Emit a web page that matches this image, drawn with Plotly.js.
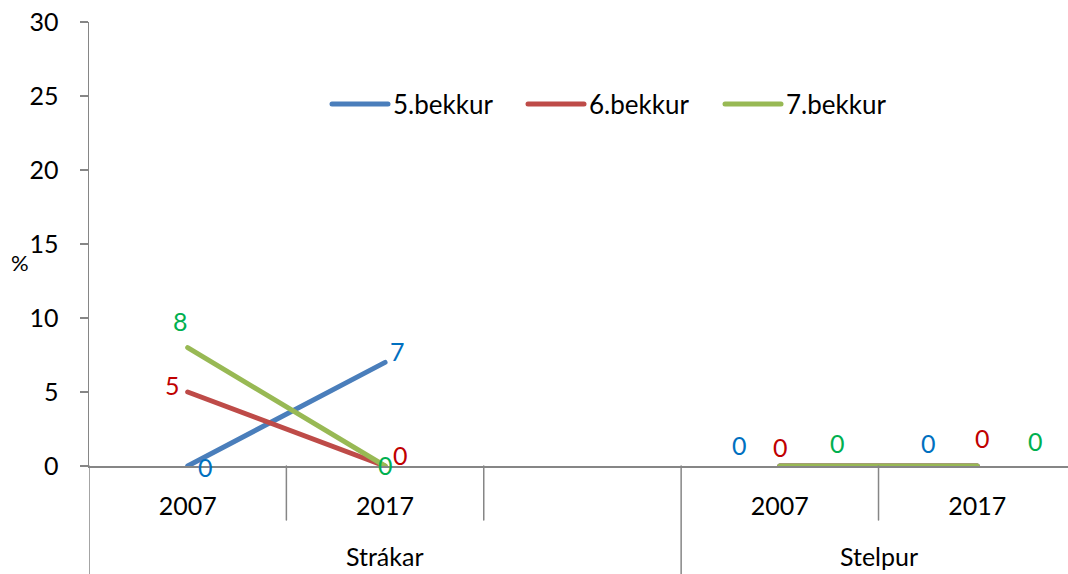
<!DOCTYPE html>
<html>
<head>
<meta charset="utf-8">
<script src="https://cdn.plot.ly/plotly-3.0.1.min.js"></script>
<style>
html,body{margin:0;padding:0;background:#fff;}
#chart{width:1068px;height:574px;}
path.js-line{stroke-linecap:round !important;}
</style>
</head>
<body>
<div id="chart"></div>
<script>
// ---- data ----
const groups = ["Strákar", "Stelpur"];
const years = ["2007", "2017"];
const seriesNames = ["5.bekkur", "6.bekkur", "7.bekkur"];
// values per series: [Strákar 2007, Strákar 2017, Stelpur 2007, Stelpur 2017]
const bekkur5 = [0, 7, 0, 0];
const bekkur6 = [5, 0, 0, 0];
const bekkur7 = [8, 0, 0, 0];
const yTicks = [0, 5, 10, 15, 20, 25, 30];
const yLabel = "%";

// ---- layout helpers (positions / styles) ----
// category slots: Strákar 2007, Strákar 2017, (blank), Stelpur 2007, Stelpur 2017
const slotX = [0, 1, 3, 4];
const lineColors = ["#4A7EBB", "#BE4B48", "#98B954"];
const labelColors = ["#0070C0", "#C00000", "#00B050"];
const FONT = "Lato, 'Noto Sans', sans-serif";
const FS = 25;
// label offsets in px (dx right, dy down) per series per point
const labelOffsets = [
  [[18, 1], [12, -11], [-40, -21], [-49, -23]],
  [[-15, -7], [15, -11], [1, -19], [5, -28]],
  [[-7, -27], [0, -1], [58, -23], [58, -25]]
];
const allSeries = [bekkur5, bekkur6, bekkur7];

const plotW = 979, plotH = 444, botPx = 108, leftPx = 89, topPx = 22;
const px2x = p => (p - leftPx) / plotW;
const py2y = p => (topPx + plotH - p) / plotH;

function withGap(vals) {
  return {
    x: [slotX[0], slotX[1], null, slotX[2], slotX[3]],
    y: [vals[0], vals[1], null, vals[2], vals[3]]
  };
}

const traces = allSeries.map((vals, i) => {
  const g = withGap(vals);
  return {
    type: "scatter",
    mode: "lines",
    name: seriesNames[i],
    x: g.x,
    y: g.y,
    connectgaps: false,
    line: {color: lineColors[i], width: 5},
    hoverinfo: "skip",
    cliponaxis: false,
    showlegend: false
  };
});

const annotations = [];
allSeries.forEach((vals, i) => {
  vals.forEach((v, j) => {
    annotations.push({
      xref: "x", yref: "y", x: slotX[j], y: v,
      text: String(v), showarrow: false,
      xshift: labelOffsets[i][j][0], yshift: -labelOffsets[i][j][1],
      font: {family: FONT, size: FS, color: labelColors[i]},
      xanchor: "center", yanchor: "middle"
    });
  });
});

const shortDiv = -54 / plotH;
const longDiv = -botPx / plotH;

// group labels
const groupCenters = [1, 3.5];
groups.forEach((g, k) => {
  annotations.push({
    xref: "x", yref: "paper", x: groupCenters[k], y: py2y(556),
    text: g, showarrow: false, xanchor: "center", yanchor: "middle",
    font: {family: FONT, size: FS, color: "#000"}
  });
});
// y-axis label
annotations.push({
  xref: "paper", yref: "paper", x: px2x(20), y: py2y(262),
  text: yLabel, showarrow: false, xanchor: "center", yanchor: "middle",
  font: {family: FONT, size: 22, color: "#000"}
});

const divColor = "#868686";
const shapes = [];
[0.5, 1.5, 3.5].forEach(xv => shapes.push({
  type: "line", xref: "x", yref: "paper", x0: xv, x1: xv, y0: 0, y1: shortDiv,
  line: {color: divColor, width: 1.5}
}));
[-0.5, 2.5, 4.5].forEach(xv => shapes.push({
  type: "line", xref: "x", yref: "paper", x0: xv, x1: xv, y0: 0, y1: longDiv,
  line: {color: divColor, width: 1.5}
}));

// custom legend (line sample + text)
const legStart = [332, 528, 725];
seriesNames.forEach((nm, i) => {
  shapes.push({
    type: "line", xref: "paper", yref: "paper",
    x0: px2x(legStart[i]), x1: px2x(legStart[i] + 56), y0: py2y(104), y1: py2y(104),
    line: {color: lineColors[i], width: 5}, name: "leg" + i
  });
  annotations.push({
    xref: "paper", yref: "paper", x: px2x(legStart[i] + 59), y: py2y(104),
    text: nm, showarrow: false, xanchor: "left", yanchor: "middle",
    font: {family: FONT, size: 26, color: "#000"}
  });
});

const layout = {
  width: 1068, height: 574,
  margin: {l: leftPx, r: 0, t: topPx, b: botPx},
  paper_bgcolor: "#fff", plot_bgcolor: "#fff",
  showlegend: false,
  xaxis: {
    range: [-0.5, 4.46], type: "linear",
    tickvals: slotX, ticktext: [years[0], years[1], years[0], years[1]],
    showgrid: false, zeroline: false, showline: true,
    linecolor: divColor, linewidth: 1.5, ticks: "",
    ticklabelstandoff: 17,
    tickfont: {family: FONT, size: FS, color: "#000"},
    fixedrange: true
  },
  yaxis: {
    range: [0, 30], tickvals: yTicks,
    showgrid: false, zeroline: false, showline: true,
    linecolor: divColor, linewidth: 1.5,
    ticks: "outside", ticklen: 8, tickcolor: divColor, tickwidth: 1.5,
    ticklabelstandoff: 16,
    tickfont: {family: FONT, size: FS, color: "#000"},
    fixedrange: true
  },
  annotations: annotations,
  shapes: shapes
};

Plotly.newPlot("chart", traces, layout, {staticPlot: true, displayModeBar: false}).then(() => {
  document.querySelectorAll(".shapelayer path").forEach(p => {
    p.style.strokeLinecap = "round";
  });
});
</script>
</body>
</html>
